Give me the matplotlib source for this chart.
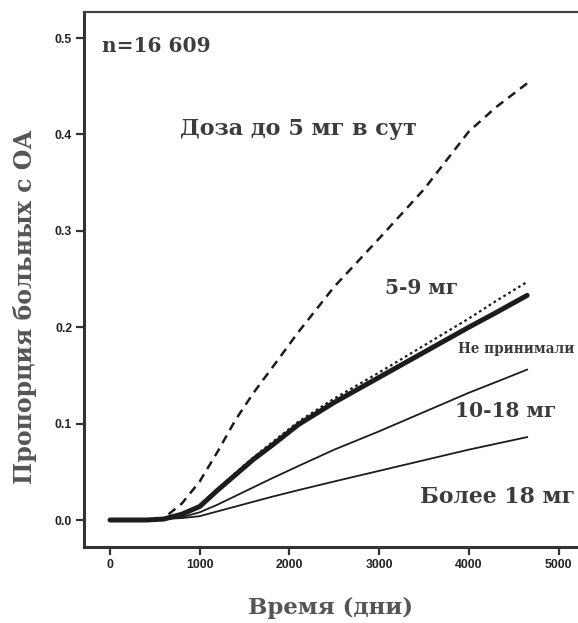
import matplotlib.pyplot as plt

# cumulative proportion of patients with OA by daily dose
days = [0, 400, 600, 800, 1000, 1200, 1400, 1600, 1800, 2100, 2500, 3000, 3500, 4000, 4300, 4650]
dose_lt5 = [0.0, 0.0, 0.002, 0.017, 0.040, 0.071, 0.104, 0.132, 0.157, 0.195, 0.242, 0.292, 0.343, 0.403, 0.428, 0.453]
dose_5_9 = [0.0, 0.0, 0.001, 0.006, 0.015, 0.032, 0.049, 0.065, 0.080, 0.102, 0.126, 0.153, 0.181, 0.209, 0.227, 0.247]
no_gc = [0.0, 0.0, 0.001, 0.006, 0.014, 0.031, 0.047, 0.063, 0.077, 0.099, 0.122, 0.148, 0.174, 0.200, 0.215, 0.233]
dose_10_18 = [0.0, 0.0, 0.001, 0.003, 0.008, 0.016, 0.025, 0.034, 0.043, 0.056, 0.073, 0.092, 0.112, 0.132, 0.143, 0.156]
dose_gt18 = [0.0, 0.0, 0.001, 0.002, 0.004, 0.009, 0.014, 0.019, 0.024, 0.031, 0.040, 0.051, 0.062, 0.073, 0.079, 0.086]

xticks = [0, 1000, 2000, 3000, 4000, 5000]
yticks = [0.0, 0.1, 0.2, 0.3, 0.4, 0.5]

ink = '#1c1c1c'
txt = '#3c3c3c'
serif = 'DejaVu Serif'

fig = plt.figure(figsize=(5.78, 6.23), dpi=100)
ax = fig.add_axes([84 / 578, 1 - 547 / 623, 499 / 578, 535 / 623])

ax.plot(days, dose_gt18, color=ink, lw=1.3)
ax.plot(days, dose_10_18, color=ink, lw=1.3)
ax.plot(days, no_gc, color=ink, lw=3.6, solid_capstyle='round')
ax.plot(days, dose_5_9, color=ink, lw=1.6, linestyle=(0, (1.2, 1.4)))
ax.plot(days, dose_lt5, color=ink, lw=1.8, linestyle=(0, (3.5, 2.5)))

ax.set_xlim(-290, 5273)
ax.set_ylim(-0.028, 0.527)
ax.set_xticks(xticks)
ax.set_yticks(yticks)
ax.set_xticklabels([str(t) for t in xticks])
ax.set_yticklabels(['%.1f' % t for t in yticks])
for lab in ax.get_xticklabels() + ax.get_yticklabels():
    lab.set_fontfamily('Liberation Sans')
    lab.set_fontweight('bold')
    lab.set_fontsize(8.8)
    lab.set_color('#222222')
ax.tick_params(direction='out', length=6, width=1.6, color='#333333', pad=2.5)

for side in ['left', 'bottom']:
    ax.spines[side].set_linewidth(2.2)
    ax.spines[side].set_color('#333333')
ax.spines['top'].set_linewidth(1.6)
ax.spines['top'].set_color('#444444')
ax.spines['right'].set_visible(False)

kw = dict(family=serif, fontweight='bold', color=txt, va='center', ha='left')
ax.text(-89, 0.492, 'n=16 609', fontsize=14.5, **kw)
ax.text(780, 0.406, 'Доза до 5 мг в сут', fontsize=16, **kw)
ax.text(3066, 0.241, '5-9 мг', fontsize=14.5, **kw)
ax.text(3880, 0.177, 'Не принимали', fontsize=9.8, **kw)
ax.text(3846, 0.113, '10-18 мг', fontsize=14.5, **kw)
ax.text(3456, 0.024, 'Более 18 мг', fontsize=15.8, **kw)

fig.text(330 / 578, 1 - 608 / 623, 'Время (дни)', family=serif, fontweight='bold',
         fontsize=16.5, color='#555555', ha='center', va='center')
fig.text(25 / 578, 1 - 307 / 623, 'Пропорция больных с ОА', family=serif, fontweight='bold',
         fontsize=17, color='#555555', ha='center', va='center', rotation=90)

fig.savefig('out.png', dpi=100)
